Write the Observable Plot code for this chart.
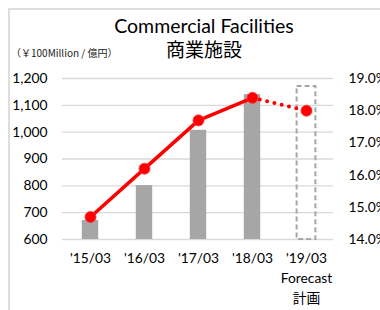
<!DOCTYPE html>
<html>
<head>
<meta charset="utf-8">
<script src="https://cdn.jsdelivr.net/npm/d3@7"></script>
<script src="https://cdn.jsdelivr.net/npm/@observablehq/plot@0.6"></script>
<style>
  html, body { margin: 0; padding: 0; background: #fff; }
  #wrap { position: relative; width: 380px; height: 310px; overflow: hidden; font-family: Lato, "Noto Sans CJK JP", sans-serif; }
  #frameL { position: absolute; left: 8px; top: 8px; width: 1.5px; height: 310px; background: #dedede; }
  #frameT { position: absolute; left: 8px; top: 8px; width: 380px; height: 1.5px; background: #dedede; }
  .t { position: absolute; white-space: nowrap; color: #000; }
  #title1 { left: 14px; width: 380px; text-align: center; top: 14px; font-size: 19.5px; }
  #title2 { left: 14px; width: 380px; text-align: center; top: 35px; font-size: 19px; font-family: "Noto Sans CJK JP", sans-serif; }
  #unit { left: 11px; top: 45px; font-size: 10px; font-family: "Noto Sans CJK JP", sans-serif; color: #222; }
  #chart { position: absolute; left: 0; top: 0; }
</style>
</head>
<body>
<div id="wrap">
  <div id="frameL"></div>
  <div id="frameT"></div>
  <div class="t" id="title1">Commercial Facilities</div>
  <div class="t" id="title2">商業施設</div>
  <div class="t" id="unit">（￥100Million / 億円）</div>
  <div id="chart"></div>
</div>
<script>
// Categories (fiscal year ends)
const periods = ["'15/03", "'16/03", "'17/03", "'18/03", "'19/03\nForecast\n計画"];
// Sales (¥100 million), actual years
const actualPeriods = ["'15/03", "'16/03", "'17/03", "'18/03"];
const sales = [671, 801, 1007, 1140];
// Forecast sales
const forecastPeriod = ["'19/03\nForecast\n計画"];
const forecastSales = [1170];
// Operating margin (%) actual
const margin = [14.7, 16.2, 17.7, 18.4];
// Forecast margin segment
const forecastLinePeriods = ["'18/03", "'19/03\nForecast\n計画"];
const forecastMargin = [18.4, 18.0];
// Axis ticks
const leftTicks = [600, 700, 800, 900, 1000, 1100, 1200];
const rightTicks = [14, 15, 16, 17, 18, 19];

// right axis (%) mapped onto the left scale domain
const pctToLeft = p => 600 + (p - 14) * 120;
const leftToPct = v => (v - 600) / 120 + 14;

const barData = actualPeriods.map((p, i) => ({p, v: sales[i]}));
const fcData = forecastPeriod.map((p, i) => ({p, v: forecastSales[i]}));
const lineData = actualPeriods.map((p, i) => ({p, v: pctToLeft(margin[i])}));
const fcLine = forecastLinePeriods.map((p, i) => ({p, v: pctToLeft(forecastMargin[i])}));

const chart = Plot.plot({
  width: 380,
  height: 310,
  marginLeft: 62,
  marginRight: 47,
  marginTop: 78,
  marginBottom: 71,
  style: {fontFamily: "Lato, 'Noto Sans CJK JP', sans-serif", fontSize: "13.8px", color: "#000", background: "transparent"},
  x: {domain: periods, padding: 0, label: null},
  y: {domain: [600, 1200], label: null},
  marks: [
    Plot.ruleY(leftTicks, {stroke: "#d9d9d9", strokeWidth: 1.3}),
    Plot.barY(barData, {x: "p", y1: 600, y2: "v", fill: "#a6a6a6", insetLeft: 18.8, insetRight: 18.8}),
    Plot.barY(fcData, {x: "p", y1: 600, y2: "v", fill: "none", stroke: "#a6a6a6", strokeWidth: 2, strokeDasharray: "5 3", insetLeft: 17.6, insetRight: 17.6}),
    Plot.line(fcLine, {x: "p", y: "v", stroke: "#ff0000", strokeWidth: 4, strokeDasharray: "0 7.5", strokeLinecap: "round"}),
    Plot.line(lineData, {x: "p", y: "v", stroke: "#ff0000", strokeWidth: 3.5}),
    Plot.dot(lineData.concat(fcLine.slice(1)), {x: "p", y: "v", r: 5.5, fill: "#ff0000", stroke: "#ff3030", strokeWidth: 0.8}),
    Plot.axisY({anchor: "left", ticks: leftTicks, tickSize: 0, tickPadding: 15, tickFormat: d => d3.format(",")(d), label: null}),
    Plot.axisY({anchor: "right", ticks: rightTicks.map(pctToLeft), tickSize: 0, tickPadding: 15, tickFormat: d => leftToPct(d).toFixed(1) + "%", textAnchor: "start", label: null}),
    Plot.axisX({anchor: "bottom", tickSize: 0, tickPadding: 10, label: null, lineHeight: 1.42})
  ]
});
document.getElementById("chart").appendChild(chart);
</script>
</body>
</html>
